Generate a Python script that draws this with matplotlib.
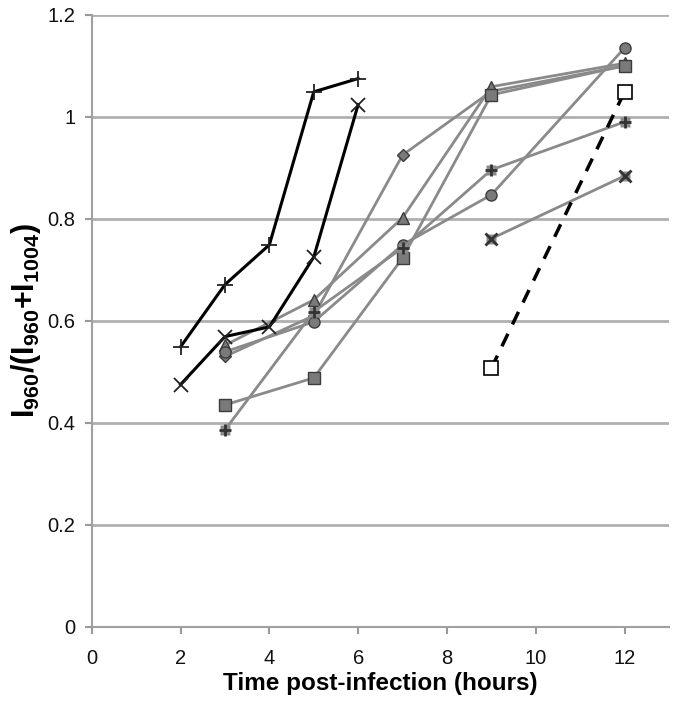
import matplotlib
matplotlib.use("Agg")
import matplotlib.pyplot as plt

plt.rcParams['font.family'] = ['Liberation Sans', 'DejaVu Sans']
plt.rcParams['mathtext.fontset'] = 'custom'
plt.rcParams['mathtext.rm'] = 'Liberation Sans'
plt.rcParams['mathtext.bf'] = 'Liberation Sans:bold'

# grey series (one per sample)
x_grey = [3, 5, 7, 9, 12]
diamond_y = [0.530, 0.610, 0.925, 1.050, 1.100]
triangle_y = [0.552, 0.641, 0.802, 1.059, 1.105]
circle_y = [0.539, 0.598, 0.749, 0.847, 1.135]
plus_grey_y = [0.386, 0.618, 0.743, 0.896, 0.990]
square_y = [0.435, 0.488, 0.723, 1.043, 1.100]

x_late = [9, 12]
cross_grey_y = [0.761, 0.884]
open_square_y = [0.507, 1.049]

# black series
x_black = [2, 3, 4, 5, 6]
plus_black_y = [0.549, 0.671, 0.749, 1.049, 1.075]
cross_black_y = [0.475, 0.569, 0.588, 0.725, 1.024]

x_ticks = [0, 2, 4, 6, 8, 10, 12]
y_ticks = [0, 0.2, 0.4, 0.6, 0.8, 1.0, 1.2]
y_tick_labels = ['0', '0.2', '0.4', '0.6', '0.8', '1', '1.2']

fig = plt.figure(figsize=(6.75, 7.05), dpi=100)
ax = fig.add_axes([0.136, 0.111, 0.855, 0.868])

grey_line = '#8a8a8a'
grey_fill = '#7a7a7a'
grey_edge = '#3c3c3c'

grey_series = [
    (diamond_y, 'D', 6),
    (triangle_y, '^', 8),
    (circle_y, 'o', 8),
    (square_y, 's', 8),
]
for ys, mk, ms in grey_series:
    ax.plot(x_grey, ys, color=grey_line, lw=2, marker=mk, ms=ms,
            mfc=grey_fill, mec=grey_edge, mew=1, zorder=3)

ax.plot(x_grey, plus_grey_y, color=grey_line, lw=2, zorder=3)
ax.plot(x_grey, plus_grey_y, ls='none', marker='s', ms=7, mfc='#8a8a8a', mec='none', zorder=4)
ax.plot(x_grey, plus_grey_y, ls='none', marker='+', ms=9, mec='#333333', mew=2, zorder=5)

ax.plot(x_late, cross_grey_y, color=grey_line, lw=2, zorder=3)
ax.plot(x_late, cross_grey_y, ls='none', marker='s', ms=7, mfc='#8a8a8a', mec='none', zorder=4)
ax.plot(x_late, cross_grey_y, ls='none', marker='x', ms=9, mec='#333333', mew=2, zorder=5)

ax.plot(x_late, open_square_y, color='black', lw=2.5, ls=(0, (4, 3)),
        marker='s', ms=10, mfc='white', mec='black', mew=1.2, zorder=3)

ax.plot(x_black, plus_black_y, color='black', lw=2.2, marker='+', ms=11,
        mec='#222222', mew=1.3, zorder=6)
ax.plot(x_black, cross_black_y, color='black', lw=2.2, marker='x', ms=10,
        mec='#222222', mew=1.3, zorder=6)

ax.set_xlim(0, 13)
ax.set_ylim(0, 1.2)
ax.set_xticks(x_ticks)
ax.set_yticks(y_ticks)
ax.set_yticklabels(y_tick_labels)
ax.tick_params(axis='both', labelsize=14.5, colors='#999999', labelcolor='#111111',
               length=5, width=1.5)
ax.tick_params(axis='x', pad=11)
ax.tick_params(axis='y', pad=7)
ax.grid(axis='y', color='#b0b0b0', lw=2)
ax.set_axisbelow(True)
for side in ['top', 'right']:
    ax.spines[side].set_visible(False)
for side in ['left', 'bottom']:
    ax.spines[side].set_color('#a0a0a0')
    ax.spines[side].set_linewidth(1.5)

ax.set_xlabel('Time post-infection (hours)', fontsize=17.5, fontweight='bold', labelpad=3)
ax.set_ylabel(r'$\mathbf{I_{960}/(I_{960}{+}I_{1004})}$', fontsize=22, labelpad=3)

fig.savefig('out.png', dpi=100)
